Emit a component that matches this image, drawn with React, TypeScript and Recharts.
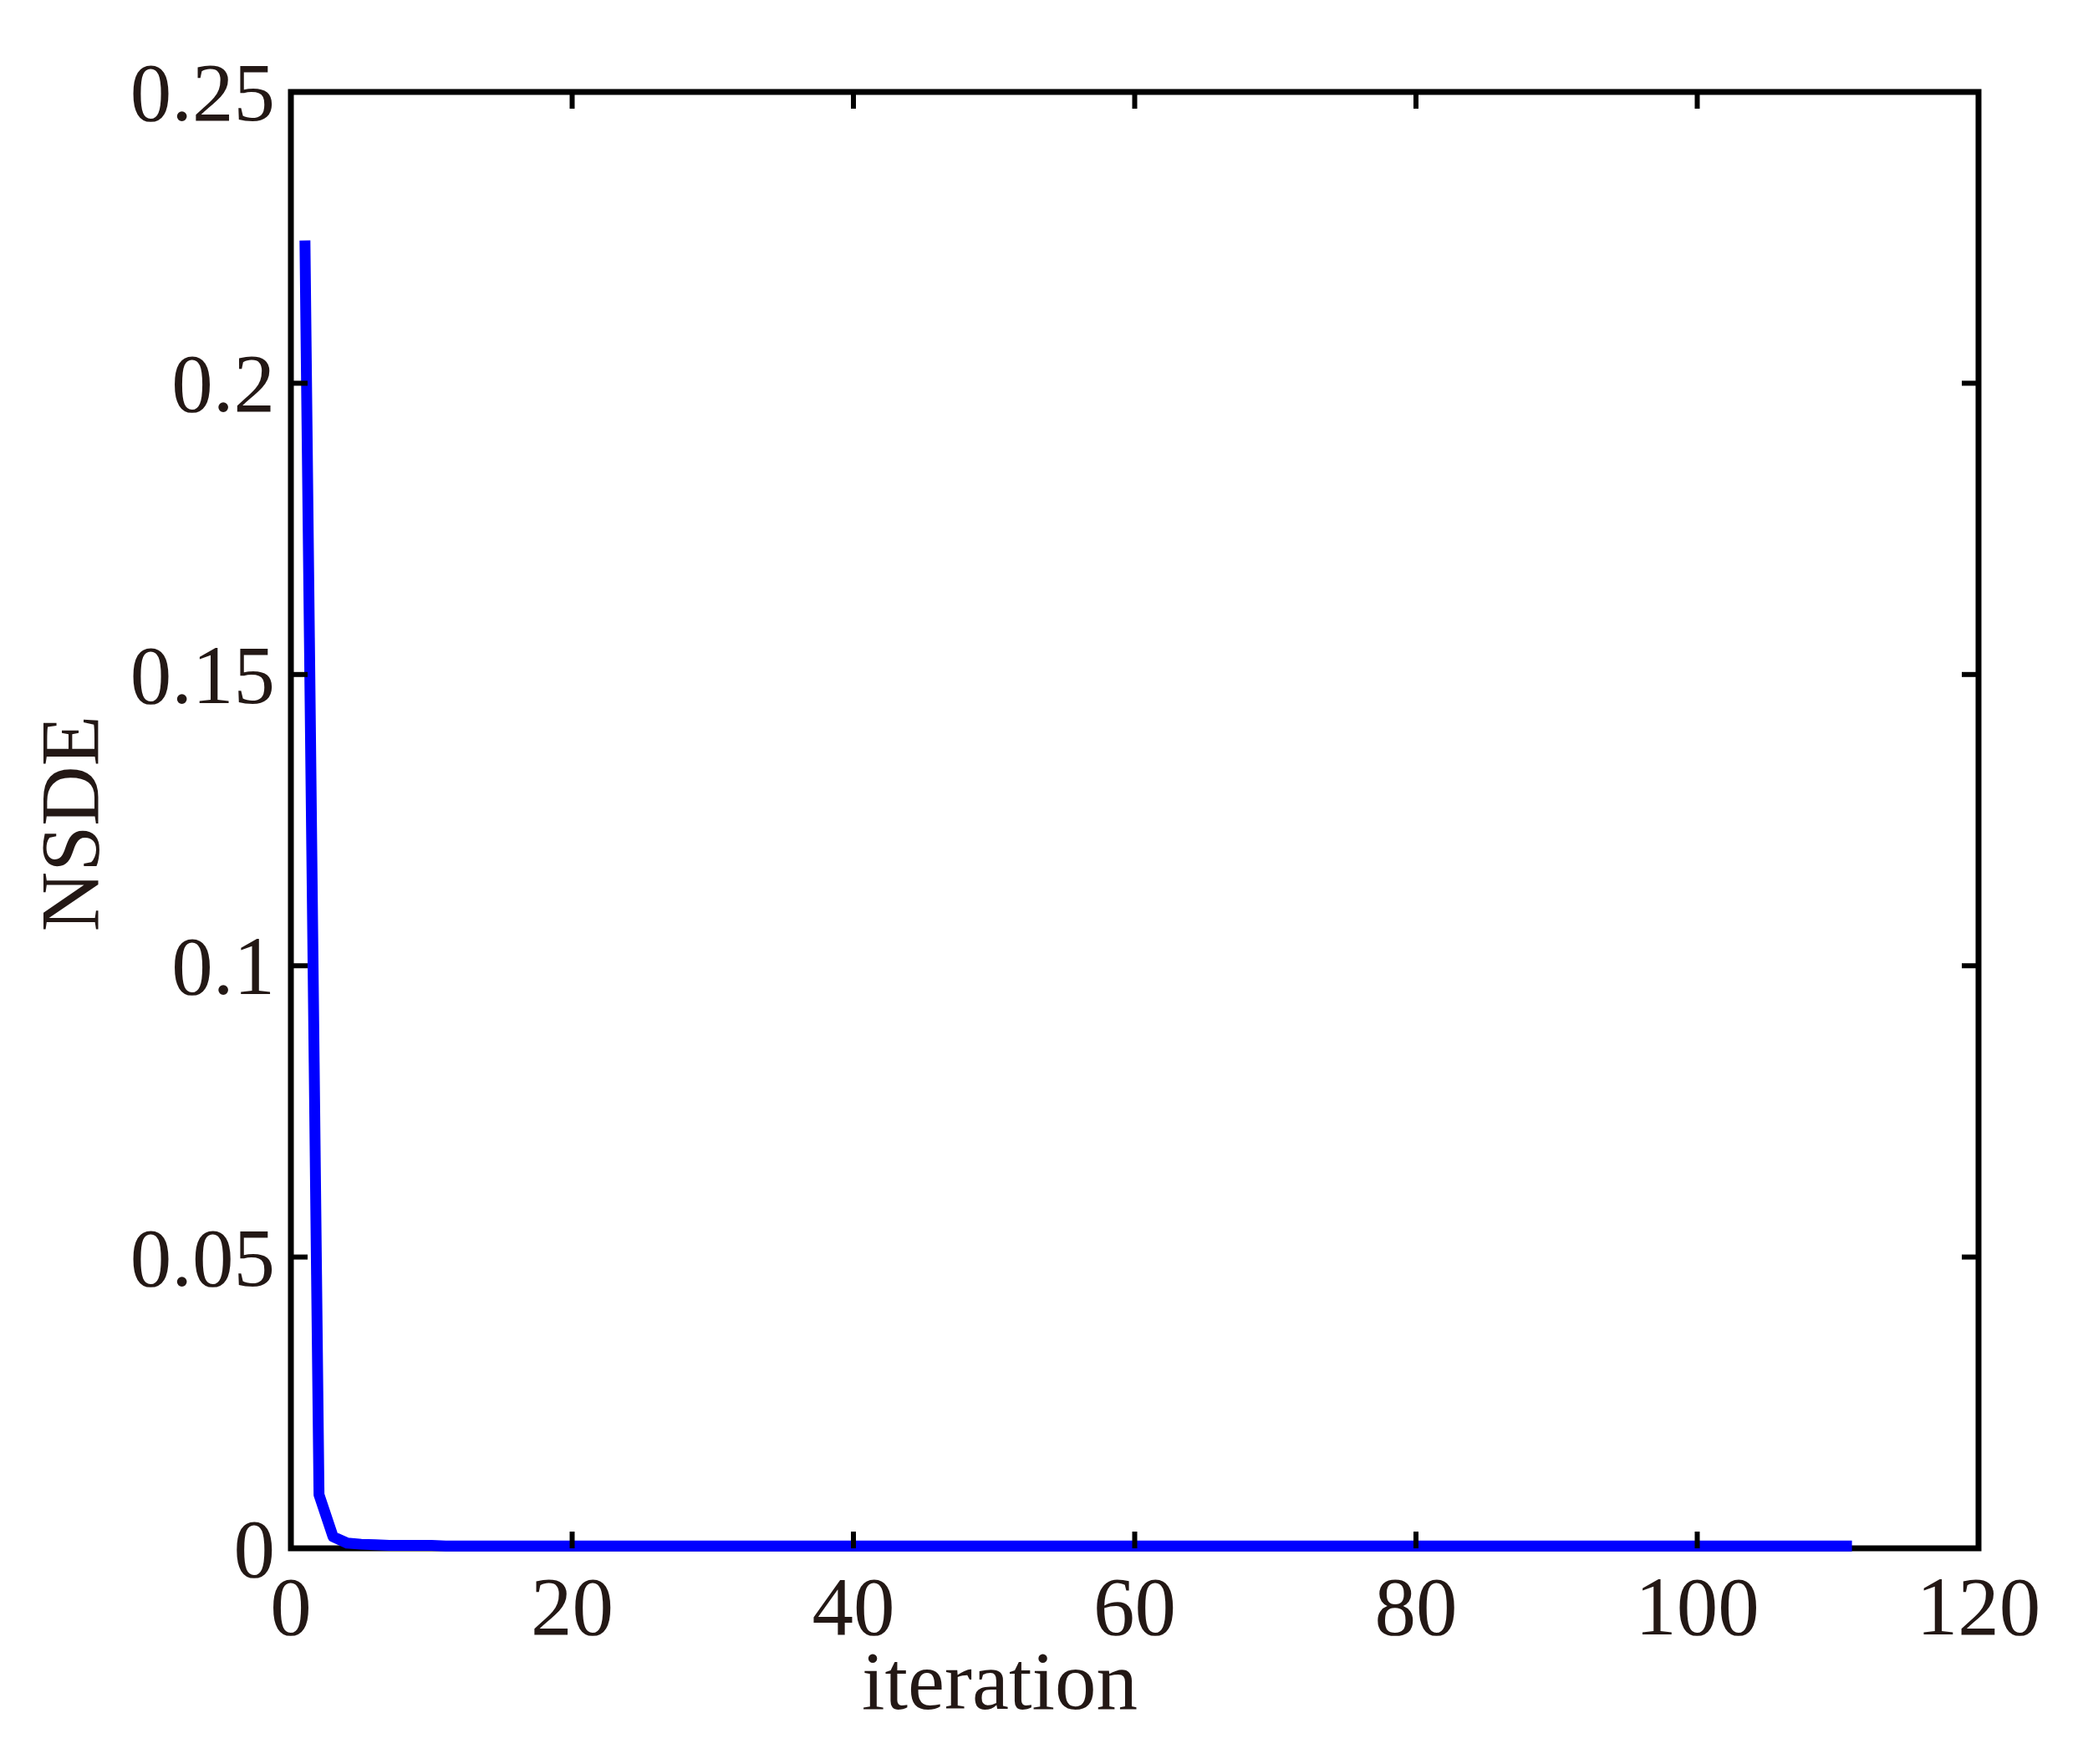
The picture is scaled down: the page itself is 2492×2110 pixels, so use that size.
import React from 'react';
import { LineChart, Line, XAxis, YAxis, ReferenceArea, Label } from 'recharts';

const iterations = [
  1, 2, 3, 4, 5, 6, 7, 8, 9, 10,
  11, 12, 13, 14, 15, 16, 17, 18, 19, 20,
  21, 22, 23, 24, 25, 26, 27, 28, 29, 30,
  31, 32, 33, 34, 35, 36, 37, 38, 39, 40,
  41, 42, 43, 44, 45, 46, 47, 48, 49, 50,
  51, 52, 53, 54, 55, 56, 57, 58, 59, 60,
  61, 62, 63, 64, 65, 66, 67, 68, 69, 70,
  71, 72, 73, 74, 75, 76, 77, 78, 79, 80,
  81, 82, 83, 84, 85, 86, 87, 88, 89, 90,
  91, 92, 93, 94, 95, 96, 97, 98, 99, 100,
  101, 102, 103, 104, 105, 106, 107, 108, 109, 110,
  111,
];

const nsde = [
  0.2245, 0.0092, 0.002, 0.0009, 0.0007, 0.0006, 0.0005, 0.0005, 0.0005, 0.0005,
  0.0004, 0.0004, 0.0004, 0.0004, 0.0004, 0.0004, 0.0004, 0.0004, 0.0004, 0.0004,
  0.0004, 0.0004, 0.0004, 0.0004, 0.0004, 0.0004, 0.0004, 0.0004, 0.0004, 0.0004,
  0.0004, 0.0004, 0.0004, 0.0004, 0.0004, 0.0004, 0.0004, 0.0004, 0.0004, 0.0004,
  0.0004, 0.0004, 0.0004, 0.0004, 0.0004, 0.0004, 0.0004, 0.0004, 0.0004, 0.0004,
  0.0004, 0.0004, 0.0004, 0.0004, 0.0004, 0.0004, 0.0004, 0.0004, 0.0004, 0.0004,
  0.0004, 0.0004, 0.0004, 0.0004, 0.0004, 0.0004, 0.0004, 0.0004, 0.0004, 0.0004,
  0.0004, 0.0004, 0.0004, 0.0004, 0.0004, 0.0004, 0.0004, 0.0004, 0.0004, 0.0004,
  0.0004, 0.0004, 0.0004, 0.0004, 0.0004, 0.0004, 0.0004, 0.0004, 0.0004, 0.0004,
  0.0004, 0.0004, 0.0004, 0.0004, 0.0004, 0.0004, 0.0004, 0.0004, 0.0004, 0.0004,
  0.0004, 0.0004, 0.0004, 0.0004, 0.0004, 0.0004, 0.0004, 0.0004, 0.0004, 0.0004,
  0.0004,
];

const xTicks = [0, 20, 40, 60, 80, 100, 120];
const yTicks = [0, 0.05, 0.1, 0.15, 0.2, 0.25];
const yTickLabels = ['0', '0.05', '0.1', '0.15', '0.2', '0.25'];

const data = iterations.map((it, i) => ({ iteration: it, nsde: nsde[i] }));

const W = 2492;
const H = 2110;
const PLOT_LEFT = 348;
const PLOT_RIGHT = 2367;
const PLOT_TOP = 110;
const PLOT_BOTTOM = 1852;
const FONT = '"Liberation Serif", "Times New Roman", serif';
const FS = 99;
const TEXT = '#231815';
const TICK = 20;
const TW = 6;

const XTick = (props: any) => {
  const { x, y, payload } = props;
  return (
    <g>
      <line x1={x} y1={y} x2={x} y2={y - TICK} stroke="#000" strokeWidth={TW} />
      <line x1={x} y1={PLOT_TOP} x2={x} y2={PLOT_TOP + TICK} stroke="#000" strokeWidth={TW} />
      <text x={x} y={y + 103} textAnchor="middle" fontFamily={FONT} fontSize={FS} fill={TEXT}>
        {String(payload.value)}
      </text>
    </g>
  );
};

const YTick = (props: any) => {
  const { x, y, payload } = props;
  const label = yTickLabels[yTicks.indexOf(payload.value)] ?? String(payload.value);
  return (
    <g>
      <line x1={x} y1={y} x2={x + TICK} y2={y} stroke="#000" strokeWidth={TW} />
      <line x1={PLOT_RIGHT} y1={y} x2={PLOT_RIGHT - TICK} y2={y} stroke="#000" strokeWidth={TW} />
      <text x={x - 19} y={y + 34} textAnchor="end" fontFamily={FONT} fontSize={FS} fill={TEXT}>
        {label}
      </text>
    </g>
  );
};

export default function App() {
  return (
    <div style={{ position: 'absolute', left: 0, top: 0, width: W, height: H, background: '#fff' }}>
      <LineChart
        width={W}
        height={H}
        data={data}
        margin={{ top: PLOT_TOP, right: W - PLOT_RIGHT, bottom: 0, left: 0 }}
      >
        <XAxis
          dataKey="iteration"
          type="number"
          domain={[0, 120]}
          ticks={xTicks}
          interval={0}
          height={H - PLOT_BOTTOM}
          axisLine={false}
          tickLine={false}
          tickSize={0}
          tickMargin={0}
          tick={<XTick />}
        >
          <Label
            content={() => (
              <text
                x={1196}
                y={2044}
                textAnchor="middle"
                fontFamily={FONT}
                fontSize={FS}
                fill={TEXT}
              >
                iteration
              </text>
            )}
          />
        </XAxis>
        <YAxis
          type="number"
          domain={[0, 0.25]}
          ticks={yTicks}
          interval={0}
          width={PLOT_LEFT}
          axisLine={false}
          tickLine={false}
          tickSize={0}
          tickMargin={0}
          tick={<YTick />}
        >
          <Label
            content={() => (
              <text
                x={117}
                y={985}
                textAnchor="middle"
                fontFamily={FONT}
                fontSize={FS}
                fill={TEXT}
                transform="rotate(-90, 117, 985)"
              >
                NSDE
              </text>
            )}
          />
        </YAxis>
        <ReferenceArea
          x1={0}
          x2={120}
          y1={0}
          y2={0.25}
          fill="none"
          fillOpacity={0}
          stroke="#000"
          strokeWidth={7}
          ifOverflow="visible"
        />
        <Line
          type="linear"
          dataKey="nsde"
          stroke="#0000ff"
          strokeWidth={13}
          dot={false}
          activeDot={false}
          isAnimationActive={false}
          strokeLinejoin="round"
        />
      </LineChart>
    </div>
  );
}
